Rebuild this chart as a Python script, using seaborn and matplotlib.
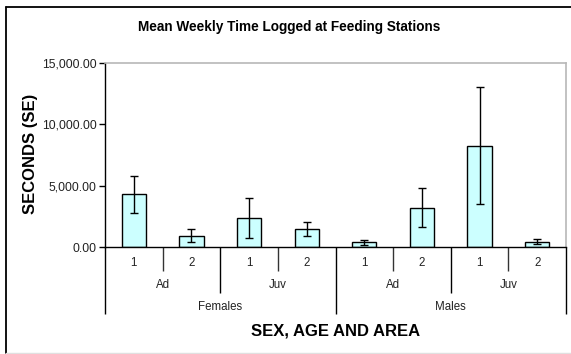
import matplotlib
matplotlib.use("Agg")
import matplotlib.pyplot as plt
from matplotlib.lines import Line2D
from matplotlib.ticker import FuncFormatter
import seaborn as sns
import pandas as pd

# Dados
sexes = ["Females", "Females", "Females", "Females", "Males", "Males", "Males", "Males"]
ages = ["Ad", "Ad", "Juv", "Juv", "Ad", "Ad", "Juv", "Juv"]
areas = ["1", "2", "1", "2", "1", "2", "1", "2"]
mean_seconds = [4300, 950, 2350, 1480, 400, 3200, 8250, 470]
se_seconds = [1520, 550, 1630, 600, 190, 1580, 4750, 220]

df = pd.DataFrame({"sex": sexes, "age": ages, "area": areas,
                   "seconds": mean_seconds, "se": se_seconds})
df["cat"] = df["sex"] + "|" + df["age"] + "|" + df["area"]

sns.set_theme(style="white")
plt.rcParams["font.family"] = ["Liberation Sans", "DejaVu Sans"]

fig = plt.figure(figsize=(5.71, 3.54), dpi=100)
ax = fig.add_axes([105 / 571, 1 - 247.3 / 354, 461 / 571, 184.6 / 354])

sns.barplot(data=df, x="cat", y="seconds", color="#CCFFFF", width=0.42,
            edgecolor="black", linewidth=1.0, saturation=1, errorbar=None, ax=ax)
xpos = list(range(len(df)))
ax.errorbar(xpos, df["seconds"], yerr=df["se"], fmt="none", ecolor="black",
            elinewidth=1.0, capsize=3, capthick=1.0, zorder=5)

ax.set_xlim(-0.5, len(df) - 0.5)
ax.set_ylim(0, 15000)
ax.set_yticks([0, 5000, 10000, 15000])
ax.yaxis.set_major_formatter(FuncFormatter(lambda v, p: f"{v:,.2f}"))
ax.tick_params(axis="y", which="major", direction="out", length=4, width=1,
               color="black", labelsize=8.8, labelcolor="#222222", pad=2, left=True)
ax.set_xticks([])
ax.set_xlabel("")
ax.set_ylabel("")

for side in ["top", "right"]:
    ax.spines[side].set_color("#b8b8b8")
    ax.spines[side].set_linewidth(1.2)
for side in ["left", "bottom"]:
    ax.spines[side].set_color("black")
    ax.spines[side].set_linewidth(1.0)

# Eixo x em três níveis
h = 184.6
trans = ax.get_xaxis_transform()
for i, a in enumerate(areas):
    ax.text(i, -16 / h, a, transform=trans, ha="center", va="center",
            fontsize=8.3, color="#222222")

def group_spans(keys):
    spans = []
    start = 0
    for i in range(1, len(keys) + 1):
        if i == len(keys) or keys[i] != keys[start]:
            spans.append((start, i - 1, keys[start][-1]))
            start = i
    return spans

age_keys = list(zip(sexes, ages))
sex_keys = [(s,) for s in sexes]
for s0, s1, lab in group_spans(age_keys):
    ax.text((s0 + s1) / 2, -38 / h, lab, transform=trans, ha="center",
            va="center", fontsize=8.3, color="#222222")
for s0, s1, lab in group_spans(sex_keys):
    ax.text((s0 + s1) / 2, -59.5 / h, lab, transform=trans, ha="center",
            va="center", fontsize=8.3, color="#222222")

sex_bounds = {s0 - 0.5 for s0, _, _ in group_spans(sex_keys)} | {len(df) - 0.5}
age_bounds = {s0 - 0.5 for s0, _, _ in group_spans(age_keys)} - sex_bounds
for b in [i - 0.5 for i in range(len(df) + 1)]:
    if b in sex_bounds:
        depth, col = 66.7, "black"
    elif b in age_bounds:
        depth, col = 45.4, "black"
    else:
        depth, col = 23.4, "#333333"
    ax.plot([b, b], [0, -depth / h], transform=trans, color=col, lw=1.0,
            clip_on=False, solid_capstyle="butt")

fig.text(335.5 / 571, 1 - 330.7 / 354, "SEX, AGE AND AREA", ha="center",
         va="center", fontsize=12, fontweight="bold", color="black")
fig.text(30 / 571, 1 - 154 / 354, "SECONDS (SE)", ha="center", va="center",
         rotation=90, fontsize=12, fontweight="bold", color="black")
fig.text(289.5 / 571, 1 - 27 / 354, "Mean Weekly Time Logged at Feeding Stations",
         ha="center", va="center", fontsize=9.8, fontweight="bold", color="black")

# Moldura externa
fig.add_artist(Line2D([6 / 571, 6 / 571], [1 - 7.3 / 354, 0.004],
                      transform=fig.transFigure, color="black", lw=1.3))
fig.add_artist(Line2D([6 / 571, 1.0], [1 - 7.3 / 354, 1 - 7.3 / 354],
                      transform=fig.transFigure, color="black", lw=1.3))
fig.add_artist(Line2D([6 / 571, 1.0], [0.004, 0.004],
                      transform=fig.transFigure, color="#e0e0e0", lw=1.0))

fig.savefig("out.png", dpi=100)
